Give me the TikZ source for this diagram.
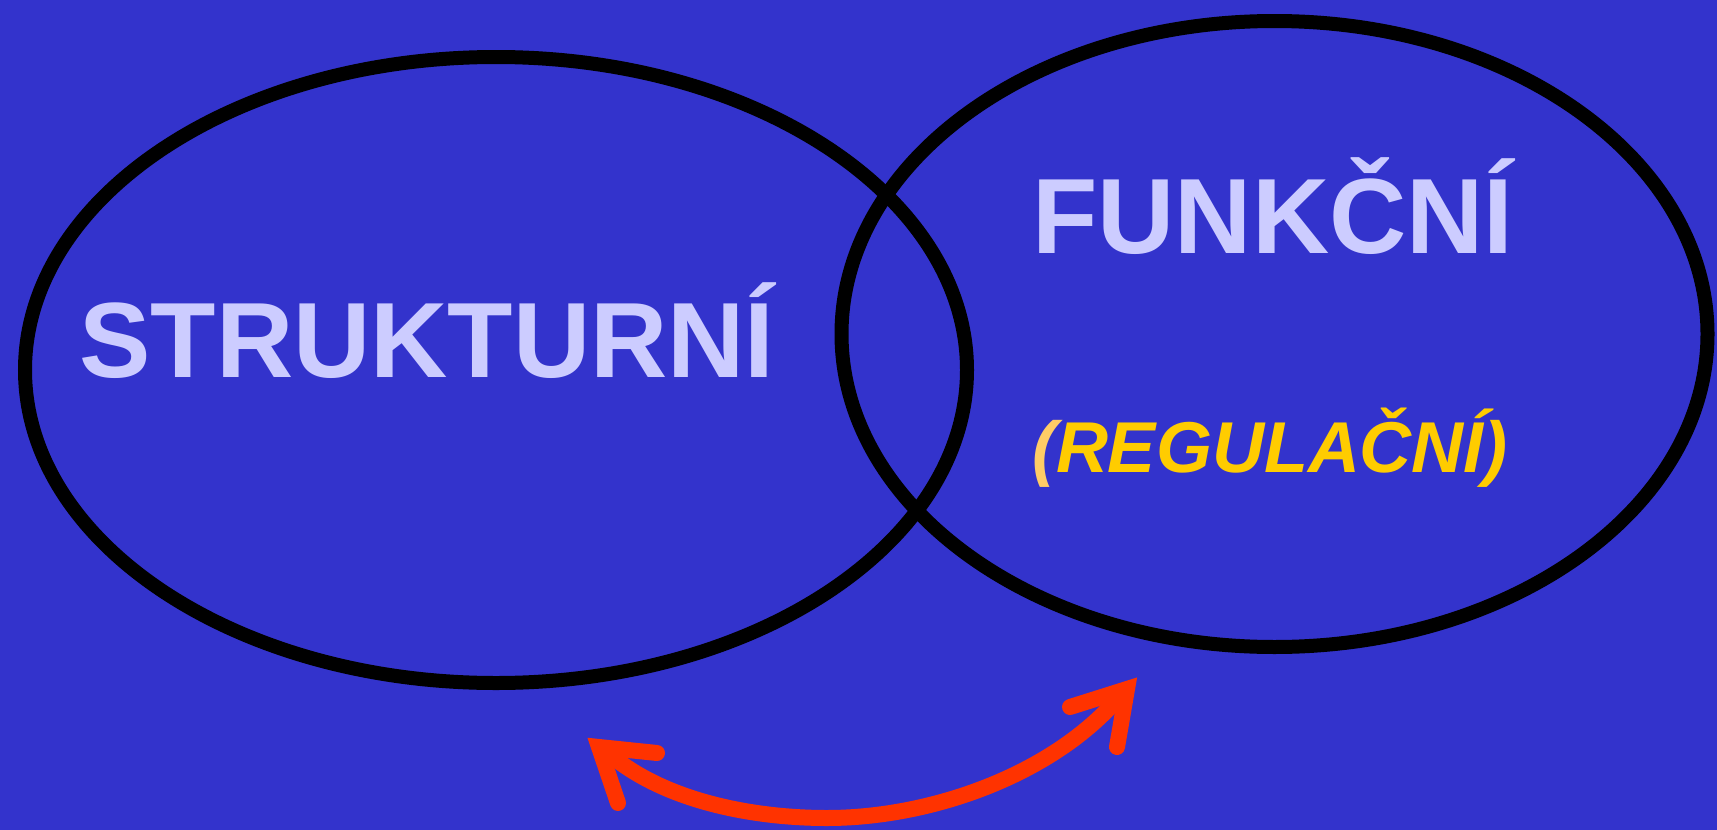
\documentclass[tikz,border=0pt]{standalone}
\usepackage{fontspec}
\setmainfont{Liberation Sans}
\definecolor{bgblue}{HTML}{3333CC}
\definecolor{lav}{HTML}{CCCCFF}
\definecolor{gold}{HTML}{FFCC00}
\definecolor{paren}{HTML}{FFCC66}
\definecolor{arrowred}{HTML}{FF3300}
\tikzset{
  ring/.style={draw=black, line width=14pt},
  bigtext/.style={text=lav, font=\fontsize{107}{120}\selectfont\bfseries, inner sep=0pt, anchor=base},
  subtext/.style={text=gold, font=\fontsize{72}{80}\selectfont\bfseries\itshape, inner sep=0pt, anchor=base},
  redline/.style={draw=arrowred, line width=16pt, line cap=round, line join=miter}
}
\begin{document}
\begin{tikzpicture}[x=1pt,y=-1pt]
\useasboundingbox (0,0) rectangle (1717,830);
\fill[bgblue] (0,0) rectangle (1717,830);
% ellipses
\coordinate (lc) at (496,370);
\coordinate (rc) at (1274.5,334);
\draw[ring] (lc) ellipse [x radius=471pt, y radius=313pt];
\draw[ring] (rc) ellipse [x radius=433pt, y radius=313pt];
% texts
\node[bigtext] (struk) at (427,377) {STRUKTURNÍ};
\node[bigtext] (funk) at (1273,253) {FUNKČNÍ};
\node[subtext] (reg) at (1270,472) {{\color{paren}(}REGULAČNÍ)};
% arrow
\coordinate (ltip) at (599,747);
\coordinate (la1) at (657,753);
\coordinate (la2) at (618,803);
\coordinate (ls) at (618,761);
\coordinate (bot) at (827,818);
\coordinate (rtip) at (1127,689);
\coordinate (ra1) at (1070,707);
\coordinate (ra2) at (1117,747);
\coordinate (rs) at (1112,705);
\draw[redline, line cap=butt, line join=round] (ltip) -- (ls)
  .. controls (674,803) and (757,818) .. (bot)
  .. controls (927,818) and (1044,778) .. (rs) -- (rtip);
\draw[redline] (la1) -- (ltip) -- (la2);
\draw[redline] (ra1) -- (rtip) -- (ra2);
\end{tikzpicture}
\end{document}
